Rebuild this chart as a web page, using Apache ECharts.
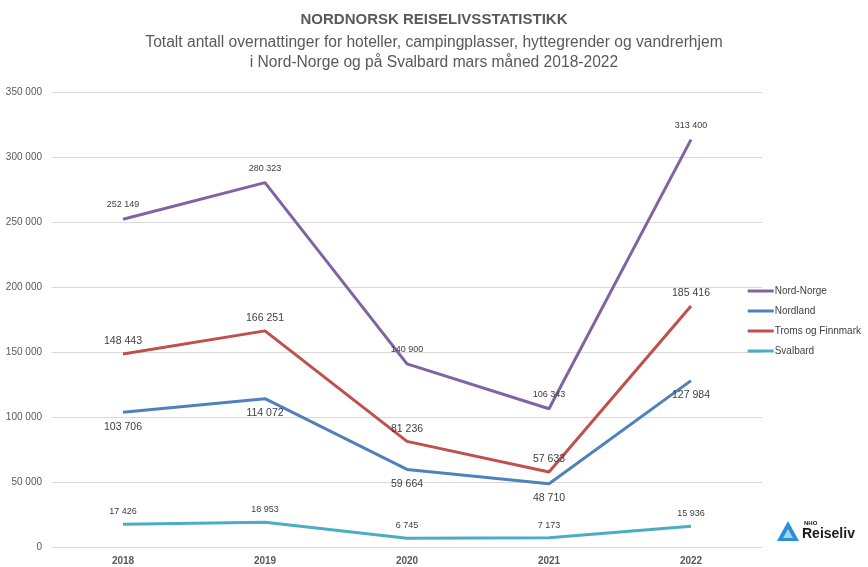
<!DOCTYPE html>
<html><head><meta charset="utf-8">
<script src="https://cdn.jsdelivr.net/npm/echarts@6/dist/echarts.min.js"></script>
<style>html,body{margin:0;padding:0;background:#fff}#c{width:868px;height:567px}</style>
</head><body><div id="c"></div>
<script>
const years = ['2018','2019','2020','2021','2022'];
const nordNorge = [252149, 280323, 140900, 106343, 313400];
const nordland = [103706, 114072, 59664, 48710, 127984];
const tromsFinnmark = [148443, 166251, 81236, 57633, 185416];
const svalbard = [17426, 18953, 6745, 7173, 15936];
const seriesNames = ['Nord-Norge','Nordland','Troms og Finnmark','Svalbard'];

const fmt = v => String(v).replace(/\B(?=(\d{3})+(?!\d))/g, ' ');
const FONT = '"Liberation Sans Narrow","Liberation Sans",sans-serif';
const chart = echarts.init(document.getElementById('c'));
function mk(name, data, color, pos, size, extra) {
  return {
    name, type: 'line', data, symbol: 'circle', symbolSize: 0, showSymbol: true, smooth: false,
    lineStyle: { color, width: 3 }, itemStyle: { color },
    labelLayout: { hideOverlap: false },
    label: Object.assign({ show: true, position: pos, formatter: p => fmt(p.value),
      fontFamily: FONT, fontSize: size, color: '#404040', distance: 8 }, extra || {})
  };
}
chart.setOption({
  animation: false,
  title: [
    { text: 'NORDNORSK REISELIVSSTATISTIKK', left: 'center', top: 7,
      textStyle: { fontFamily: FONT, fontSize: 15, fontWeight: 'bold', color: '#595959' } },
    { text: 'Totalt antall overnattinger for hoteller, campingplasser, hyttegrender og vandrerhjem\ni Nord-Norge og på Svalbard mars måned 2018-2022', left: 'center', top: 28,
      textStyle: { fontFamily: FONT, fontSize: 15.6, fontWeight: 'normal', color: '#595959', lineHeight: 20, align: 'center' } }
  ],
  grid: { left: 52, right: 106, top: 92, bottom: 20 },
  legend: {
    orient: 'vertical', right: 2, top: 281, itemGap: 10, itemWidth: 26, itemHeight: 3,
    icon: 'rect', data: seriesNames,
    textStyle: { fontFamily: FONT, fontSize: 10, color: '#404040', padding: [0,0,0,-4] }
  },
  xAxis: {
    type: 'category', data: years, boundaryGap: true,
    axisLine: { show: false }, axisTick: { show: false },
    axisLabel: { fontFamily: FONT, fontSize: 10, fontWeight: 'bold', color: '#595959', margin: 9 }
  },
  yAxis: {
    type: 'value', min: 0, max: 350000, interval: 50000,
    axisLine: { show: false }, axisTick: { show: false },
    splitLine: { lineStyle: { color: '#d9d9d9', width: 1 } },
    axisLabel: { fontFamily: FONT, fontSize: 10, color: '#595959', margin: 10, formatter: v => fmt(v) }
  },
  series: [
    mk('Nord-Norge', nordNorge, '#8064A2', 'top', 9, { distance: 10 }),
    mk('Nordland', nordland, '#4F81BD', 'bottom', 10.5, { distance: 9 }),
    mk('Troms og Finnmark', tromsFinnmark, '#C0504D', 'top', 10.5, { distance: 7 }),
    mk('Svalbard', svalbard, '#4BACC6', 'top', 9, { distance: 8 })
  ],
  graphic: [
    { type: 'polygon', shape: { points: [[788,521],[799,541],[777,541]] }, style: { fill: '#2a8fd6' } },
    { type: 'polygon', shape: { points: [[788,529],[793,538],[783,538]] }, style: { fill: '#9fd6f5' } },
    { type: 'text', left: 804, top: 520, style: { text: 'NHO', fontFamily: FONT, fontSize: 6, fontWeight: 'bold', fill: '#1a1a1a' } },
    { type: 'text', left: 802, top: 527, style: { text: 'Reiseliv', fontFamily: '"Liberation Sans",sans-serif', fontSize: 14, fontWeight: 'bold', fill: '#1a1a1a' } }
  ]
});
</script></body></html>
